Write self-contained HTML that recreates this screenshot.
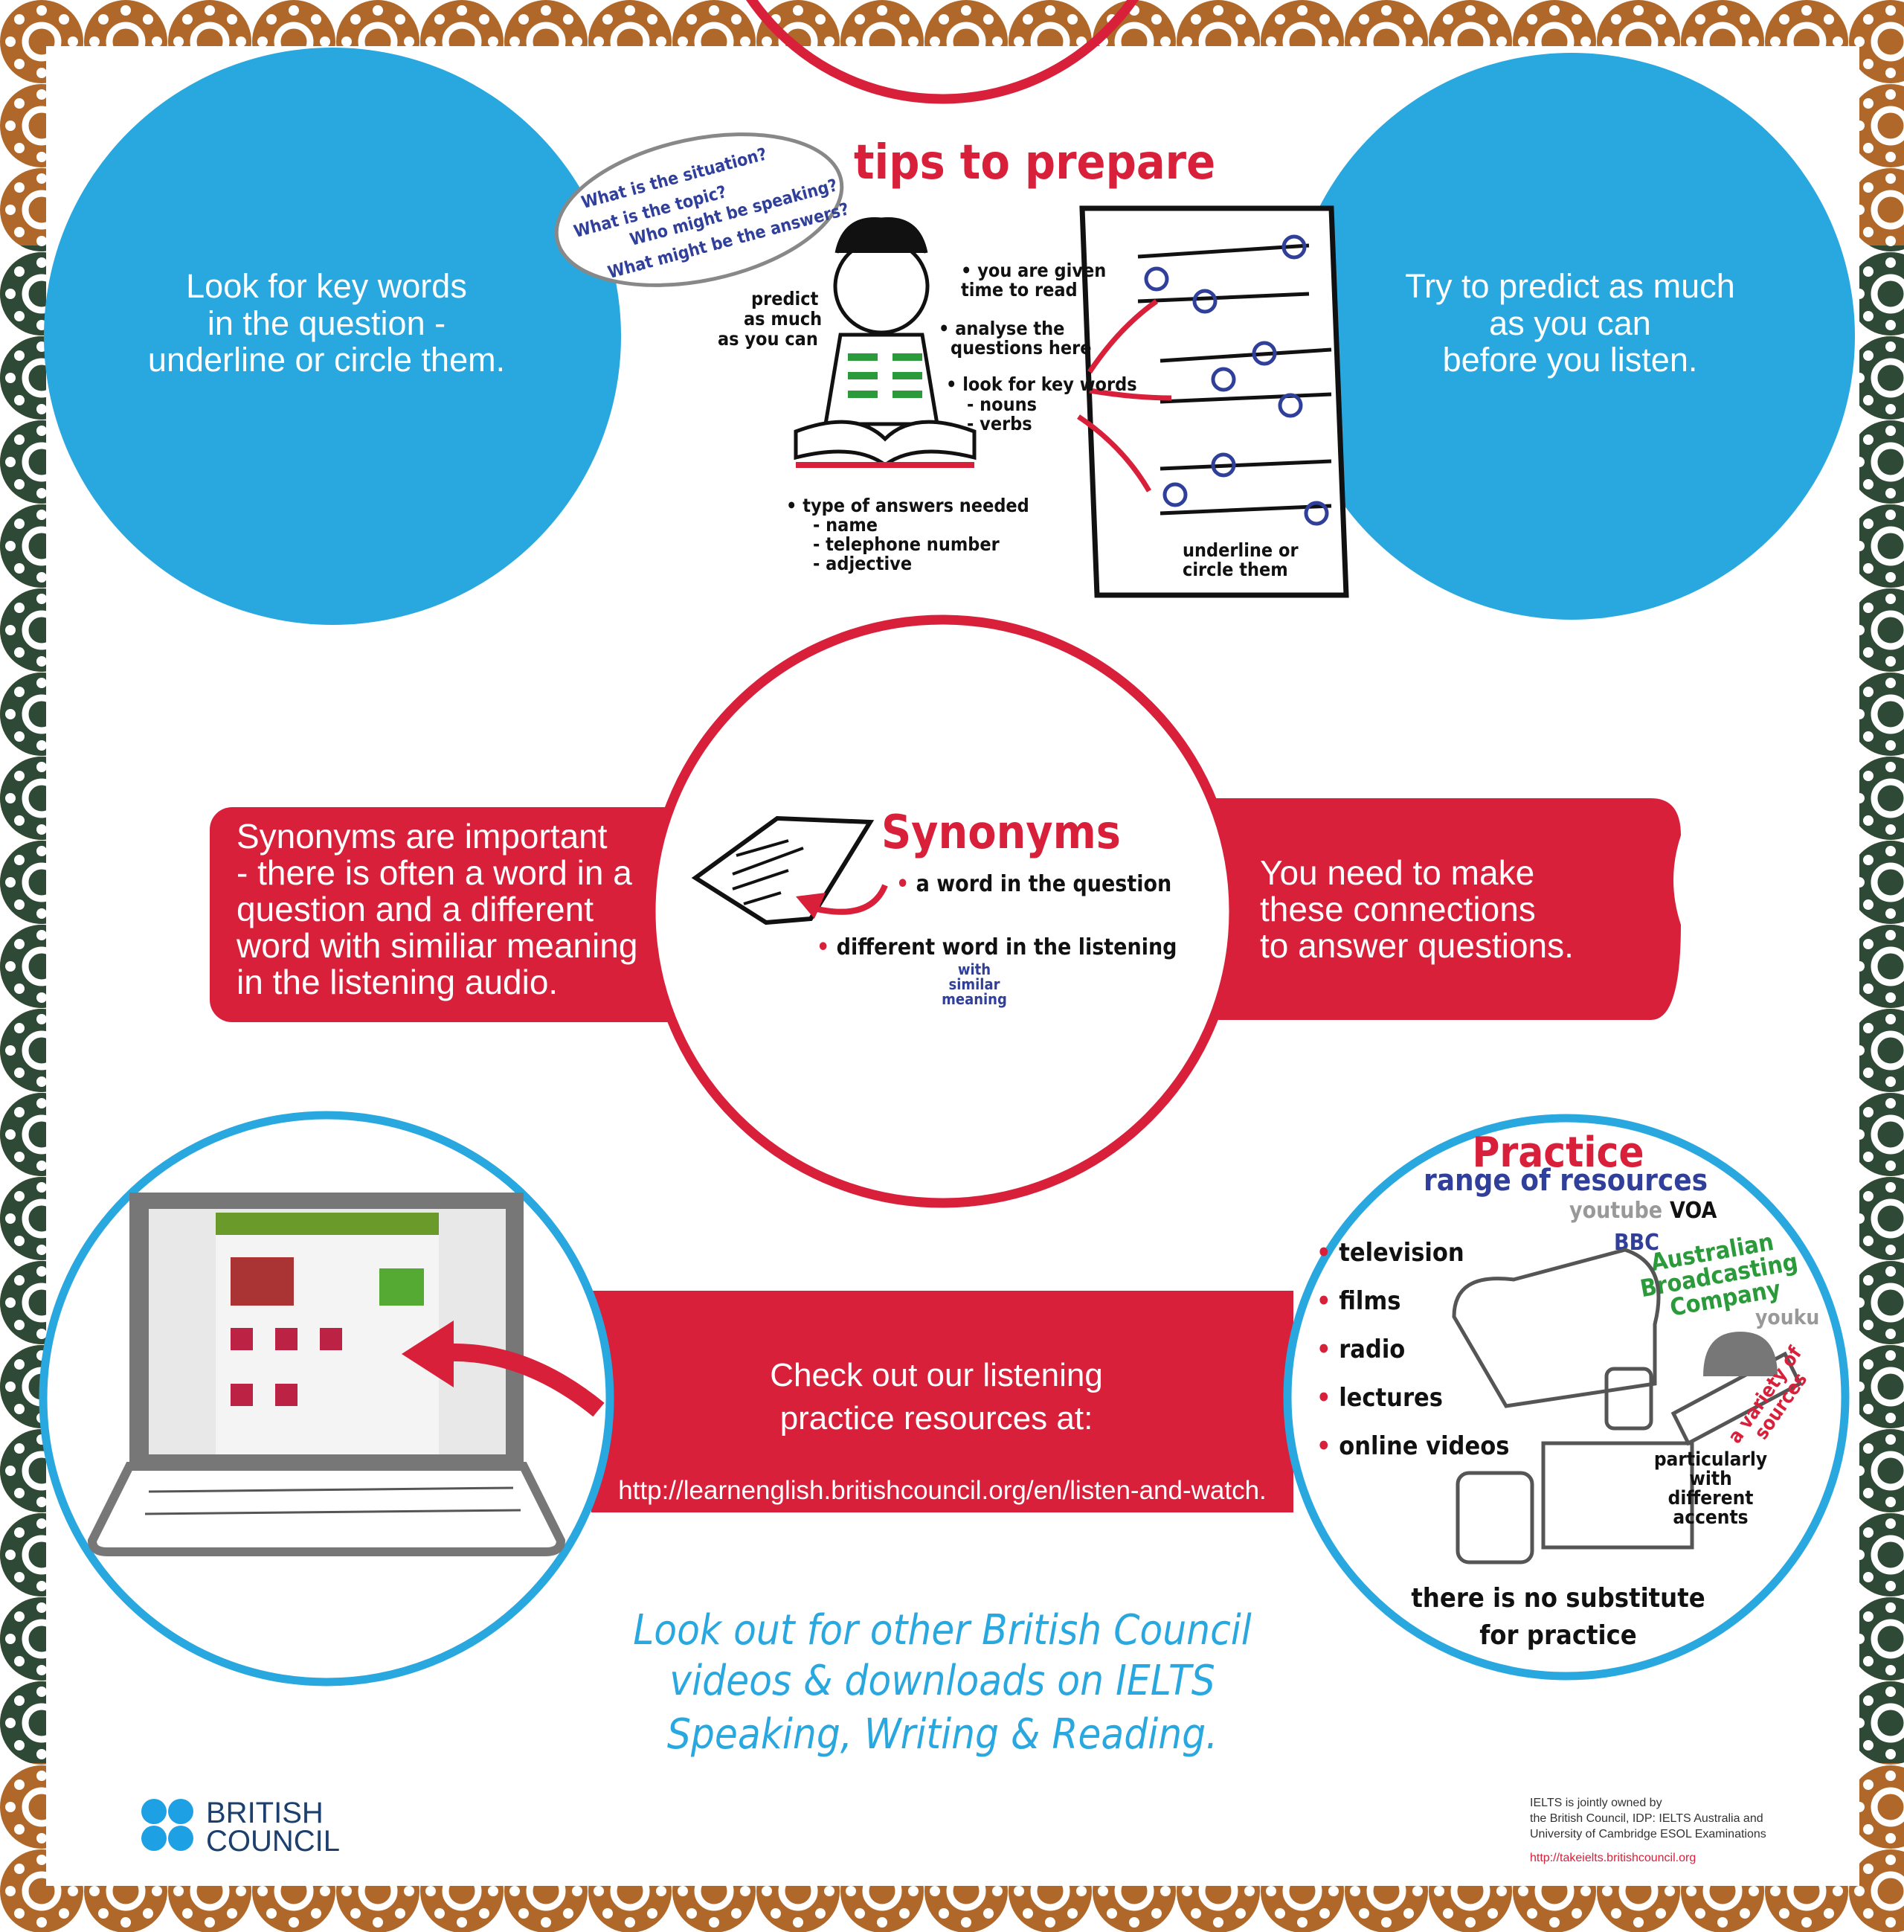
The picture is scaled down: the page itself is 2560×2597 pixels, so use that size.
<!DOCTYPE html>
<html><head><meta charset="utf-8"><style>
html,body{margin:0;padding:0;background:#fff}
body{width:2560px;height:2597px;overflow:hidden}
svg{display:block}
.h{font-family:"DejaVu Sans Condensed","DejaVu Sans",sans-serif;font-weight:bold}
.s{font-family:"Liberation Sans",sans-serif}
</style></head><body>
<svg width="2560" height="2597" viewBox="0 0 2560 2597" xmlns="http://www.w3.org/2000/svg">
<defs>
<g id="med">
<circle r="56" fill="currentColor"/>
<circle r="22" fill="none" stroke="#fff" stroke-width="9"/>
<g fill="#fff">
<circle cx="0" cy="-42" r="7"/><circle cx="30" cy="-30" r="7"/><circle cx="42" cy="0" r="7"/><circle cx="30" cy="30" r="7"/>
<circle cx="0" cy="42" r="7"/><circle cx="-30" cy="30" r="7"/><circle cx="-42" cy="0" r="7"/><circle cx="-30" cy="-30" r="7"/>
</g></g>
<pattern id="pb" x="0" y="0" width="113" height="113" patternUnits="userSpaceOnUse"><use href="#med" x="56" y="56" color="#b0682a"/></pattern>
<pattern id="pg" x="0" y="0" width="113" height="113" patternUnits="userSpaceOnUse"><use href="#med" x="56" y="56" color="#2e4a36"/></pattern>
</defs>
<rect width="2560" height="2597" fill="url(#pb)"/>
<rect x="0" y="330" width="70" height="2040" fill="url(#pg)"/>
<rect x="2490" y="330" width="70" height="2040" fill="url(#pg)"/>
<rect x="62" y="62" width="2438" height="2473" fill="#fff"/>

<!-- top arc -->
<circle cx="1267" cy="-180" r="313" fill="none" stroke="#d9203a" stroke-width="13"/>

<!-- blue circles -->
<circle cx="447" cy="452" r="388" fill="#29a7df"/>
<circle cx="2113" cy="452" r="381" fill="#29a7df"/>
<g class="s" fill="#fff" font-size="45" text-anchor="middle">
<text x="439" y="400">Look for key words</text>
<text x="439" y="450">in the question -</text>
<text x="439" y="499">underline or circle them.</text>
<text x="2111" y="400">Try to predict as much</text>
<text x="2111" y="450">as you can</text>
<text x="2111" y="499">before you listen.</text>
</g>

<!-- tips to prepare sketch -->
<ellipse cx="940" cy="282" rx="195" ry="95" fill="#fff" stroke="#888" stroke-width="5" transform="rotate(-12 940 282)"/>
<g class="h" fill="#2f3f9a" font-size="23" transform="rotate(-15 940 282)">
<text x="790" y="240">What is the situation?</text>
<text x="770" y="275">What is the topic?</text>
<text x="840" y="305">Who might be speaking?</text>
<text x="800" y="340">What might be the answers?</text>
</g>
<text class="h" x="1148" y="240" font-size="64" fill="#d9203a">tips to prepare</text>
<g stroke="#111" stroke-width="5" fill="none">
<circle cx="1185" cy="385" r="62" fill="#fff"/>
<path d="M1125 340 q10 -50 60 -45 q50 -5 60 45" fill="#111"/>
<path d="M1130 450 l-20 120 h150 l-20 -120z" fill="#fff"/>
<path d="M1070 580 q80 -30 120 10 q40 -40 120 -10 v35 q-80 -20 -120 10 q-40 -30 -120 -10z" fill="#fff"/>
<path d="M1455 280 h335 l20 520 h-335 z" stroke-width="7" fill="#fff"/>
</g>
<line x1="1070" y1="625" x2="1310" y2="625" stroke="#d9203a" stroke-width="8"/>
<g stroke="#2a9a3a" stroke-width="10">
<line x1="1140" y1="480" x2="1180" y2="480"/><line x1="1140" y1="505" x2="1180" y2="505"/><line x1="1140" y1="530" x2="1180" y2="530"/>
<line x1="1200" y1="480" x2="1240" y2="480"/><line x1="1200" y1="505" x2="1240" y2="505"/><line x1="1200" y1="530" x2="1240" y2="530"/>
</g>
<g stroke="#111" stroke-width="5"><line x1="1530" y1="345" x2="1760" y2="330"/><line x1="1530" y1="405" x2="1760" y2="395"/><line x1="1560" y1="485" x2="1790" y2="470"/><line x1="1560" y1="540" x2="1790" y2="530"/><line x1="1560" y1="630" x2="1790" y2="620"/><line x1="1560" y1="690" x2="1790" y2="680"/></g>
<g fill="none" stroke="#2f3f9a" stroke-width="5"><circle cx="1740" cy="332" r="14"/><circle cx="1555" cy="375" r="14"/><circle cx="1620" cy="405" r="14"/><circle cx="1700" cy="475" r="14"/><circle cx="1645" cy="510" r="14"/><circle cx="1735" cy="545" r="14"/><circle cx="1645" cy="625" r="14"/><circle cx="1580" cy="665" r="14"/><circle cx="1770" cy="690" r="14"/></g>
<g fill="none" stroke="#d9203a" stroke-width="7"><path d="M1465 500 q40 -60 90 -95"/><path d="M1465 525 q60 10 110 10"/><path d="M1450 560 q60 40 95 100"/></g>
<g class="h" fill="#111" font-size="25">
<text x="1010" y="410">predict</text><text x="1000" y="437">as much</text><text x="965" y="464">as you can</text>
<text x="1292" y="372">• you are given</text><text x="1292" y="398">time to read</text>
<text x="1262" y="450">• analyse the</text><text x="1278" y="476">questions here</text>
<text x="1272" y="525">• look for key words</text><text x="1300" y="552">- nouns</text><text x="1300" y="578">- verbs</text>
<text x="1057" y="688">• type of answers needed</text><text x="1093" y="714">- name</text><text x="1093" y="740">- telephone number</text><text x="1093" y="766">- adjective</text>
<text x="1590" y="748">underline or</text><text x="1590" y="774">circle them</text>
</g>

<!-- synonyms banners -->
<rect x="282" y="1085" width="700" height="289" rx="30" fill="#d9203a"/>
<path d="M1560 1073 H2220 q40 0 40 50 q-20 60 0 120 q0 128 -40 128 H1560 z" fill="#d9203a"/>
<circle cx="1267" cy="1225" r="392" fill="#fff" stroke="#d9203a" stroke-width="13"/>
<g class="s" fill="#fff" font-size="46">
<text x="318" y="1140">Synonyms are important</text>
<text x="318" y="1189">- there is often a word in a</text>
<text x="318" y="1238">question and a different</text>
<text x="318" y="1287">word with similiar meaning</text>
<text x="318" y="1336">in the listening audio.</text>
<text x="1694" y="1189">You need to make</text>
<text x="1694" y="1238">these connections</text>
<text x="1694" y="1287">to answer questions.</text>
</g>
<text class="h" x="1185" y="1140" font-size="62" fill="#d9203a">Synonyms</text>
<g class="h" fill="#111" font-size="30"><text x="1205" y="1198"><tspan fill="#d9203a">•</tspan> a word in the question</text><text x="1098" y="1283"><tspan fill="#d9203a">•</tspan> different word in the listening</text></g>
<g class="h" fill="#2f3f9a" font-size="20" text-anchor="middle"><text x="1310" y="1310">with</text><text x="1310" y="1330">similar</text><text x="1310" y="1350">meaning</text></g>
<path d="M935 1180 l110 -80 l125 5 l-80 130 l-60 5z" fill="#fff" stroke="#111" stroke-width="6"/>
<g stroke="#111" stroke-width="4"><line x1="990" y1="1150" x2="1060" y2="1130"/><line x1="985" y1="1175" x2="1080" y2="1140"/><line x1="985" y1="1195" x2="1060" y2="1170"/><line x1="1000" y1="1215" x2="1050" y2="1200"/></g>
<path d="M1190 1190 q-20 50 -100 30" fill="none" stroke="#d9203a" stroke-width="8"/><path d="M1070 1205 l40 -5 l-15 35z" fill="#d9203a"/>

<!-- bottom bar -->
<rect x="795" y="1735" width="944" height="298" fill="#d9203a"/>
<circle cx="439" cy="1880" r="381" fill="#fff" stroke="#29a7df" stroke-width="11"/>
<circle cx="2106" cy="1878" r="375" fill="#fff" stroke="#29a7df" stroke-width="11"/>
<g class="s" fill="#fff" text-anchor="middle"><text x="1259" y="1863" font-size="44">Check out our listening</text><text x="1259" y="1921" font-size="44">practice resources at:</text><text x="1267" y="2015" font-size="35">http://learnenglish.britishcouncil.org/en/listen-and-watch.</text></g>

<!-- laptop -->
<path d="M174 1603 h530 v368 h-530z" fill="#777"/>
<rect x="200" y="1625" width="480" height="330" fill="#e8e8e8"/>
<rect x="290" y="1630" width="300" height="325" fill="#f4f4f4"/>
<rect x="290" y="1630" width="300" height="30" fill="#6a9a2a"/>
<rect x="310" y="1690" width="85" height="65" fill="#a33"/>
<rect x="510" y="1705" width="60" height="50" fill="#5a3"/>
<g fill="#b24"><rect x="310" y="1785" width="30" height="30"/><rect x="370" y="1785" width="30" height="30"/><rect x="430" y="1785" width="30" height="30"/><rect x="310" y="1860" width="30" height="30"/><rect x="370" y="1860" width="30" height="30"/></g>
<path d="M174 1971 h530 l50 100 q0 15 -20 15 h-590 q-20 0 -20 -15z" fill="#fff" stroke="#777" stroke-width="12"/>
<g stroke="#555" stroke-width="3"><line x1="200" y1="2005" x2="690" y2="2000"/><line x1="195" y1="2035" x2="700" y2="2030"/></g>
<path d="M805 1895 q-110 -90 -230 -75" fill="none" stroke="#d9203a" stroke-width="24"/>
<path d="M540 1820 l70 -45 l0 90z" fill="#d9203a"/>

<!-- practice circle -->
<text class="h" x="2095" y="1568" font-size="56" fill="#d9203a" text-anchor="middle">Practice</text>
<text class="h" x="2105" y="1600" font-size="40" fill="#2f3f9a" text-anchor="middle">range of resources</text>
<text class="h" x="2110" y="1637" font-size="30" fill="#999">youtube</text><text class="h" x="2245" y="1637" font-size="30" fill="#111">VOA</text>
<text class="h" x="2170" y="1680" font-size="30" fill="#2f3f9a">BBC</text>
<g class="h" fill="#2a9a3a" font-size="32" transform="rotate(-10 2300 1720)"><text x="2225" y="1695">Australian</text><text x="2205" y="1727">Broadcasting</text><text x="2240" y="1759">Company</text></g>
<text class="h" x="2360" y="1780" font-size="28" fill="#999">youku</text>
<g class="h" font-size="34" fill="#111"><text x="1770" y="1695"><tspan fill="#d9203a">•</tspan> television</text><text x="1770" y="1760"><tspan fill="#d9203a">•</tspan> films</text><text x="1770" y="1825"><tspan fill="#d9203a">•</tspan> radio</text><text x="1770" y="1890"><tspan fill="#d9203a">•</tspan> lectures</text><text x="1770" y="1955"><tspan fill="#d9203a">•</tspan> online videos</text></g>
<g fill="none" stroke="#555" stroke-width="5"><path d="M1955 1770 q0 -60 80 -50 l150 -40 q60 20 40 100 l0 80 l-200 30 z"/><rect x="2160" y="1840" width="60" height="80" rx="10"/><path d="M2250 1900 l150 -80 l20 40 l-150 80z"/><rect x="2075" y="1940" width="200" height="140"/><rect x="1960" y="1980" width="100" height="120" rx="15"/></g>
<path d="M2290 1850 q0 -60 50 -60 q50 0 50 60z" fill="#777"/>
<g class="h" font-size="26" fill="#111" text-anchor="middle"><text x="2300" y="1970">particularly</text><text x="2300" y="1996">with</text><text x="2300" y="2022">different</text><text x="2300" y="2048">accents</text></g>
<g class="h" font-size="26" fill="#d9203a" text-anchor="middle" transform="rotate(-55 2380 1880)"><text x="2380" y="1880">a variety of</text><text x="2380" y="1906">sources</text></g>
<g class="h" font-size="36" fill="#111" text-anchor="middle"><text x="2095" y="2160">there is no substitute</text><text x="2095" y="2210">for practice</text></g>

<!-- handwritten -->
<g fill="#29a7df" font-family="DejaVu Sans Condensed, DejaVu Sans, sans-serif" font-style="italic" font-size="56" text-anchor="middle">
<text x="1267" y="2210">Look out for other British Council</text>
<text x="1267" y="2278">videos &amp; downloads on IELTS</text>
<text x="1267" y="2350">Speaking, Writing &amp; Reading.</text>
</g>

<!-- logo -->
<g fill="#1da1e4"><circle cx="207" cy="2435" r="17"/><circle cx="243" cy="2435" r="17"/><circle cx="207" cy="2471" r="17"/><circle cx="243" cy="2471" r="17"/></g>
<g class="s" fill="#1d3f6e" font-size="40"><text x="277" y="2450">BRITISH</text><text x="277" y="2488">COUNCIL</text></g>
<g class="s" font-size="16" fill="#333"><text x="2057" y="2428">IELTS is jointly owned by</text><text x="2057" y="2449">the British Council, IDP: IELTS Australia and</text><text x="2057" y="2470">University of Cambridge ESOL Examinations</text><text x="2057" y="2502" fill="#d9203a">http://takeielts.britishcouncil.org</text></g>
</svg>
</body></html>
